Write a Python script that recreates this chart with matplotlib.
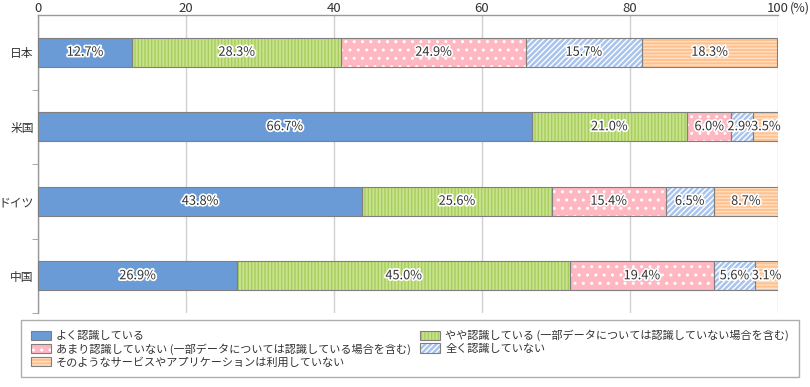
import matplotlib
matplotlib.use("Agg")
import matplotlib.pyplot as plt
import matplotlib.patches as mpatches
import matplotlib.patheffects as pe
import numpy as np

plt.rcParams['font.family'] = ['Noto Sans CJK JP', 'DejaVu Sans']
plt.rcParams['hatch.linewidth'] = 1.0

# data
countries = ['日本', '米国', 'ドイツ', '中国']
series = ['よく認識している',
          'やや認識している (一部データについては認識していない場合を含む)',
          'あまり認識していない (一部データについては認識している場合を含む)',
          '全く認識していない',
          'そのようなサービスやアプリケーションは利用していない']
well = [12.7, 66.7, 43.8, 26.9]
somewhat = [28.3, 21.0, 25.6, 45.0]
little = [24.9, 6.0, 15.4, 19.4]
never = [15.7, 2.9, 6.5, 5.6]
unused = [18.3, 3.5, 8.7, 3.1]
values = [well, somewhat, little, never, unused]

# styles
faces = ['#6a9bd6', '#c8e38e', '#ffb7c2', '#a8c3ee', '#ffc28e']
hatchcols = ['#6a9bd6', '#a9cd5c', '#ffffff', '#ffffff', '#ffe0c4']
hatches = [None, '|||||', '..', '//////', '-----']
edge = '#7f7f7f'

fig = plt.figure(figsize=(8.1, 3.87), dpi=100)
ax = fig.add_axes([38/810, 1-313/387, 740/810, 298/387])

y = np.arange(len(countries))
h = 0.39
left = np.zeros(len(countries))
for i, vals in enumerate(values):
    vals = np.array(vals)
    ax.barh(y, vals, left=left, height=h, color=faces[i], edgecolor=hatchcols[i],
            hatch=hatches[i], linewidth=0, zorder=2)
    ax.barh(y, vals, left=left, height=h, fill=False, edgecolor=edge,
            linewidth=0.8, zorder=3)
    for yy, l, v in zip(y, left, vals):
        ax.text(l + v/2, yy, f'{v:.1f}%', ha='center', va='center', fontsize=9.2,
                color='#333333', zorder=4,
                path_effects=[pe.withStroke(linewidth=2.5, foreground='white')])
    left += vals

ax.set_xlim(0, 100)
ax.set_ylim(3.5, -0.5)
ax.xaxis.tick_top()
ax.set_xticks([0, 20, 40, 60, 80, 100])
ax.tick_params(axis='x', length=0, labelsize=9.5, colors='#333333', pad=0)
ax.text(1.0165, 1.0, '(%)', transform=ax.transAxes, fontsize=9, color='#333333',
        ha='left', va='bottom')
ax.set_yticks(y)
ax.set_yticklabels(countries)
ax.set_yticks([0.5, 1.5, 2.5, 3.5], minor=True)
ax.tick_params(axis='y', which='major', length=0, labelsize=8.5, colors='#333333', pad=3)
ax.tick_params(axis='y', which='minor', length=4, color='#999999', direction='out')
ax.grid(axis='x', color='#d0d0d0', linewidth=1, zorder=0)
ax.set_axisbelow(True)
for s in ['right', 'bottom']:
    ax.spines[s].set_visible(False)
for s in ['left', 'top']:
    ax.spines[s].set_color('#999999')
    ax.spines[s].set_linewidth(1)

# legend
handles = []
for i in range(len(series)):
    p1 = mpatches.Patch(facecolor=faces[i], edgecolor=hatchcols[i], hatch=hatches[i], linewidth=0)
    p2 = mpatches.Patch(fill=False, edgecolor=edge, linewidth=0.8)
    handles.append((p1, p2))
order = [0, 2, 4, 1, 3]
leg = fig.legend([handles[k] for k in order], [series[k] for k in order], ncol=2,
                 loc='lower left', bbox_to_anchor=(15/810, 4/387), fontsize=8,
                 frameon=True, fancybox=False, edgecolor='#999999',
                 handlelength=1.8, handleheight=0.9, labelspacing=0.2,
                 columnspacing=0.8, handletextpad=0.5, borderpad=0.9)
leg.get_frame().set_linewidth(1)
for t in leg.get_texts():
    t.set_color('#333333')

fig.savefig('out.png', dpi=100)
